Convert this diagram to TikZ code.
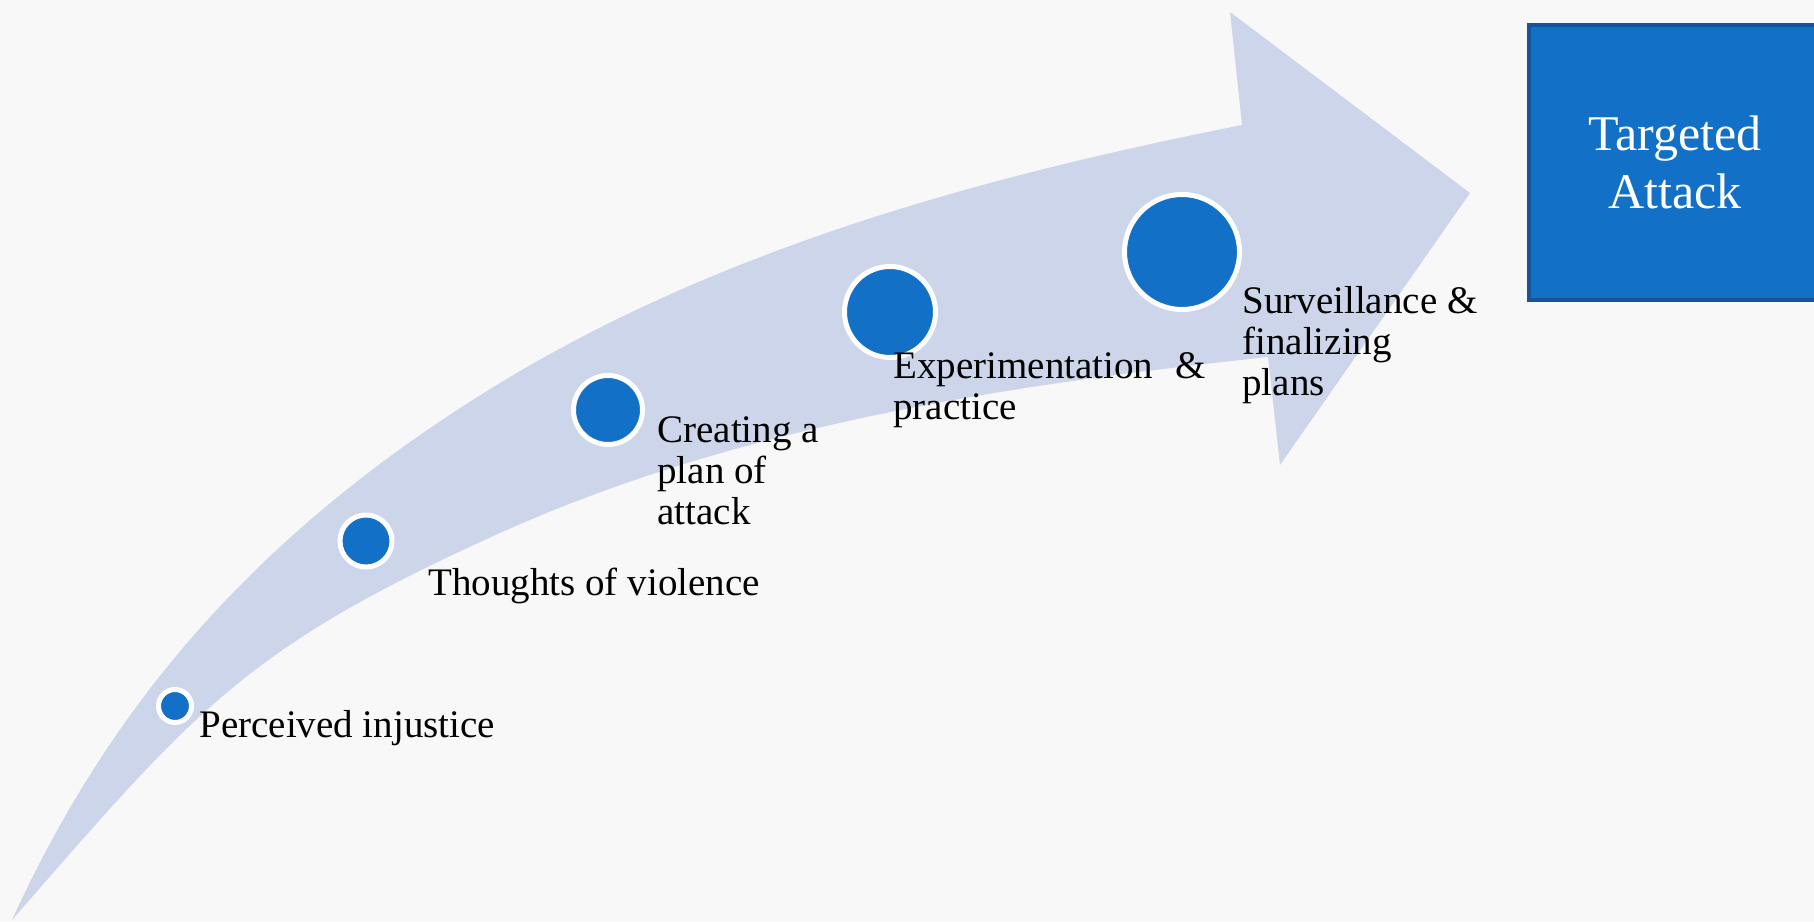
\documentclass[tikz,border=0pt]{standalone}
\usepackage{fontspec}
\setmainfont{Liberation Serif}
\definecolor{pagebg}{RGB}{248,248,248}
\definecolor{arrowfill}{RGB}{205,213,234}
\definecolor{stepblue}{RGB}{18,112,198}
\definecolor{boxedge}{RGB}{23,85,150}
\tikzset{
  dot/.style={circle, fill=stepblue, draw=white, line width=2.5pt, inner sep=0pt},
  steplabel/.style={anchor=base west, inner sep=0pt, align=left,
    font=\fontsize{19.5}{20.5}\selectfont, text=black},
  goalbox/.style={rectangle, fill=stepblue, draw=boxedge, line width=2pt,
    minimum width=146pt, minimum height=137.5pt, align=center, text=white,
    font=\fontsize{25}{29}\selectfont}
}
\begin{document}
\begin{tikzpicture}[x=0.5pt,y=-0.5pt]
  \useasboundingbox (0,0) rectangle (1814,921);
  \clip (0,0) rectangle (1814,921);
  \fill[pagebg] (0,0) rectangle (1814,921);

  % curved shaft with its arrow head
  \fill[arrowfill] (12,920)
    .. controls (108,710) and (252,534) .. (500,383)
    .. controls (724,247) and (985,176) .. (1242,125)
    -- (1230,12) -- (1470,193) -- (1280,465) -- (1268,357)
    .. controls (1007,385) and (740,425) .. (500,533)
    .. controls (245,648) and (196,709) .. (12,920)
    -- cycle;

  % milestones along the arrow
  \node[dot, minimum size=16.5pt] (d1) at (175,706) {};
  \node[dot, minimum size=26pt]   (d2) at (366,541) {};
  \node[dot, minimum size=34.5pt] (d3) at (608,410) {};
  \node[dot, minimum size=45.5pt] (d4) at (890,312) {};
  \node[dot, minimum size=57.5pt] (d5) at (1182,252) {};

  % labels are anchored on the baseline of their last line
  \node[steplabel] (l1) at (199,737) {Perceived injustice};
  \node[steplabel] (l2) at (428,595) {Thoughts of violence};
  \node[steplabel] (l3) at (657,524) {Creating a\\plan of\\attack};
  \node[steplabel] (l4) at (893,419) {Experimentation\hspace{6pt} \&\\practice};
  \node[steplabel] (l5) at (1242,395) {Surveillance \&\\finalizing\\plans};

  % end state
  \node[goalbox] (goal) at (1675,162.5) {Targeted\\Attack};
\end{tikzpicture}
\end{document}
